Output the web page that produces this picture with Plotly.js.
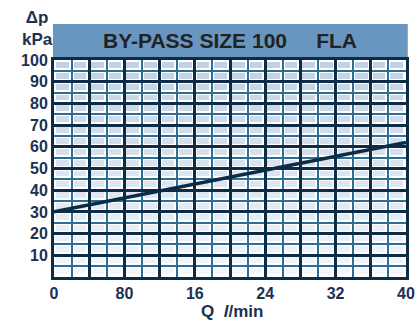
<!DOCTYPE html>
<html>
<head>
<meta charset="utf-8">
<script src="https://cdn.plot.ly/plotly-3.0.1.min.js"></script>
<style>html,body{margin:0;padding:0;background:#fff;}#chart{width:420px;height:325px;}</style>
</head>
<body>
<div id="chart"></div>
<script>
// Data
var flowQ = [0, 40];            // l/min
var deltaP = [30, 62];          // kPa
var xTickVals = [0, 4, 8, 12, 16, 20, 24, 28, 32, 36, 40];
var xTickText = ['0', '', '80', '', '16', '', '24', '', '32', '', '40'];
var yTickVals = [10, 20, 30, 40, 50, 60, 70, 80, 90, 100];
var yTickText = ['10', '20', '30', '40', '50', '60', '70', '80', '90', '100'];
var chartTitle = 'BY-PASS SIZE 100\u00a0\u00a0\u00a0\u00a0\u00a0FLA';

// background cell shading (decorative grid fill)
var cellX = [], cellY = [], cellZ = [];
for (var i = 0; i < 20; i++) cellX.push(1 + 2 * i);
for (var j = 0; j < 20; j++) cellY.push(2.5 + 5 * j);
for (var r = 0; r < 20; r++) { var row = []; for (var c = 0; c < 20; c++) row.push(r); cellZ.push(row); }

var navy = '#0c2b45';
var teal = '#2b6f97';
var labelColor = '#1c3150';
var font = 'Liberation Sans, Arial, sans-serif';

function bold(t) { return t ? '<b>' + t + '</b>' : ''; }

var traces = [
  {
    type: 'heatmap', x: cellX, y: cellY, z: cellZ,
    colorscale: [[0, '#f3f6fa'], [0.35, '#e1e8f2'], [1, '#c3d1e4']],
    showscale: false, xgap: 5, ygap: 5, hoverinfo: 'skip'
  },
  {
    type: 'scatter', mode: 'lines', x: flowQ, y: deltaP,
    line: {color: navy, width: 3.5}, hoverinfo: 'skip'
  }
];

var layout = {
  width: 420, height: 325,
  margin: {l: 54, r: 14, t: 60, b: 48},
  paper_bgcolor: '#ffffff', plot_bgcolor: '#ffffff',
  showlegend: false,
  font: {family: font, color: labelColor, size: 16},
  title: {
    text: '<b>' + chartTitle + '</b>',
    font: {family: font, size: 21, color: '#222222'},
    x: 0.5, xref: 'paper', xanchor: 'center',
    y: 1 - 41 / 325, yref: 'container', yanchor: 'middle'
  },
  xaxis: {
    range: [0, 40], fixedrange: true,
    tickmode: 'array', tickvals: xTickVals, ticktext: xTickText.map(bold),
    tickfont: {family: font, size: 16, color: labelColor},
    ticks: '', showgrid: true, gridcolor: navy, gridwidth: 3,
    minor: {tickmode: 'linear', tick0: 0, dtick: 2, showgrid: true, gridcolor: teal, gridwidth: 2},
    showline: true, mirror: true, linecolor: navy, linewidth: 3,
    zeroline: false
  },
  yaxis: {
    range: [0, 100], fixedrange: true,
    tickmode: 'array', tickvals: yTickVals, ticktext: yTickText.map(bold),
    tickfont: {family: font, size: 16, color: labelColor},
    ticks: '', showgrid: true, gridcolor: navy, gridwidth: 3,
    minor: {tickmode: 'linear', tick0: 0, dtick: 5, showgrid: true, gridcolor: teal, gridwidth: 2},
    showline: true, mirror: true, linecolor: navy, linewidth: 3,
    zeroline: false
  },
  shapes: [
    {type: 'rect', xref: 'paper', yref: 'paper', x0: -0.003, x1: 1.005, y0: 1.009, y1: 1.166,
     fillcolor: '#6896c0', line: {width: 0}, layer: 'below'}
  ],
  annotations: [
    {text: '<b>\u0394p<br>kPa</b>', xref: 'paper', yref: 'paper', x: (37 - 54) / 352, y: 1 + (60 - 6) / 217,
     xanchor: 'center', yanchor: 'top', showarrow: false,
     font: {family: font, size: 17, color: labelColor}},
    {text: '<b>Q\u00a0\u00a0<i>l</i>/min</b>', xref: 'paper', yref: 'paper', x: (232 - 54) / 352, y: -(311 - 277) / 217,
     xanchor: 'center', yanchor: 'middle', showarrow: false,
     font: {family: font, size: 17, color: labelColor}}
  ]
};

Plotly.newPlot('chart', traces, layout, {staticPlot: true, displayModeBar: false});
</script>
</body>
</html>
